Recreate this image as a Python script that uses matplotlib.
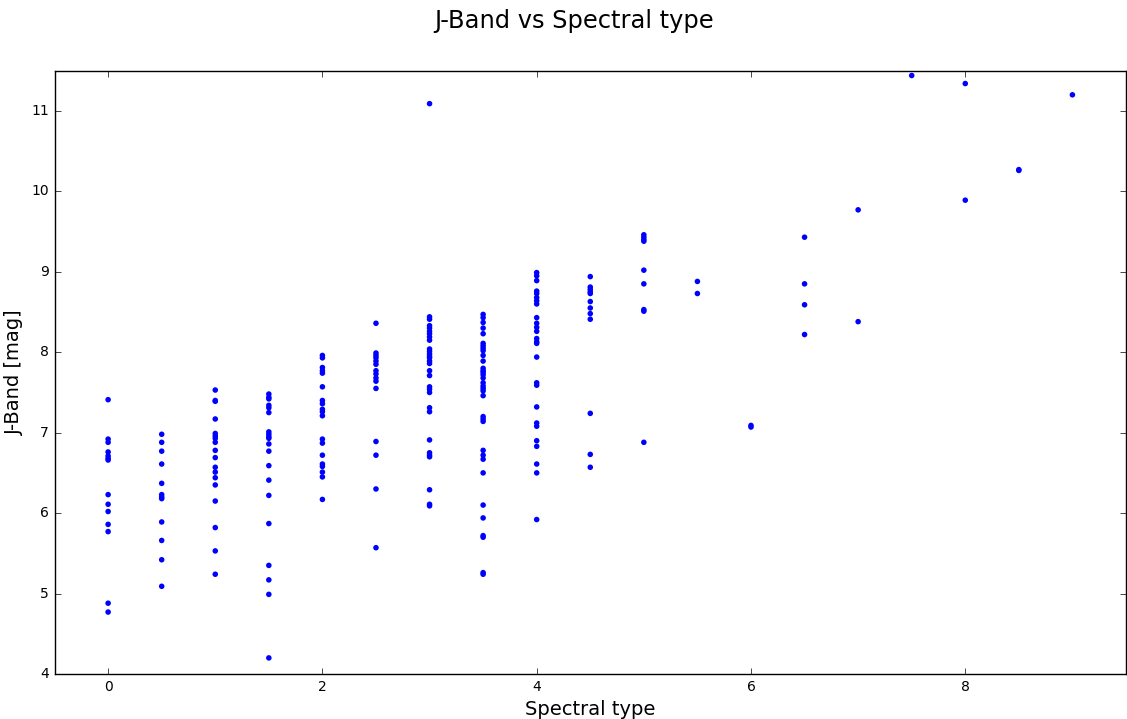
import matplotlib
matplotlib.use('Agg')
import matplotlib.pyplot as plt

# J-band magnitudes, grouped by spectral type
spt_00 = [7.41, 6.92, 6.88, 6.76, 6.71, 6.68, 6.66, 6.23, 6.11, 6.02, 5.86, 5.77, 4.88, 4.77]
spt_05 = [6.98, 6.88, 6.77, 6.61, 6.37, 6.23, 6.20, 6.18, 5.89, 5.66, 5.42, 5.09]
spt_10 = [7.53, 7.40, 7.39, 7.17, 6.99, 6.96, 6.93, 6.88, 6.78, 6.69, 6.57, 6.51,
          6.44, 6.35, 6.15, 5.82, 5.53, 5.24]
spt_15 = [7.48, 7.44, 7.42, 7.34, 7.31, 7.25, 7.01, 6.98, 6.95, 6.93, 6.86, 6.77,
          6.59, 6.41, 6.22, 5.87, 5.35, 5.17, 4.99, 4.20]
spt_20 = [7.96, 7.93, 7.81, 7.77, 7.74, 7.57, 7.40, 7.36, 7.29, 7.26, 7.21, 6.92,
          6.87, 6.72, 6.61, 6.58, 6.51, 6.45, 6.17]
spt_25 = [8.36, 7.99, 7.96, 7.93, 7.89, 7.85, 7.77, 7.73, 7.68, 7.64, 7.55, 6.89,
          6.72, 6.30, 5.57]
spt_30 = [11.09, 8.44, 8.41, 8.33, 8.30, 8.26, 8.23, 8.19, 8.15, 8.04, 8.01, 7.98,
          7.95, 7.93, 7.89, 7.86, 7.77, 7.71, 7.57, 7.54, 7.50, 7.31, 7.26, 6.91,
          6.75, 6.72, 6.70, 6.29, 6.11, 6.09]
spt_35 = [8.47, 8.43, 8.37, 8.30, 8.23, 8.11, 8.08, 8.05, 8.02, 7.96, 7.89, 7.80,
          7.77, 7.75, 7.72, 7.68, 7.62, 7.58, 7.55, 7.52, 7.46, 7.20, 7.17, 7.14,
          6.78, 6.72, 6.67, 6.50, 6.10, 5.94, 5.70, 5.72, 5.24, 5.26]
spt_40 = [8.99, 8.95, 8.89, 8.76, 8.73, 8.68, 8.64, 8.60, 8.43, 8.36, 8.31, 8.26,
          8.17, 8.13, 8.11, 7.94, 7.62, 7.59, 7.32, 7.12, 7.08, 6.90, 6.83, 6.61,
          6.50, 5.92]
spt_45 = [8.94, 8.81, 8.78, 8.75, 8.73, 8.63, 8.55, 8.48, 8.41, 7.24, 6.73, 6.57]
spt_50 = [9.46, 9.43, 9.40, 9.38, 9.02, 8.85, 8.53, 8.51, 6.88]
spt_55 = [8.88, 8.73]
spt_60 = [7.07, 7.09]
spt_65 = [9.43, 8.85, 8.59, 8.22]
spt_70 = [9.77, 8.38]
spt_75 = [11.44]
spt_80 = [11.34, 9.89]
spt_85 = [10.26, 10.27]
spt_90 = [11.20]

groups = {0.0: spt_00, 0.5: spt_05, 1.0: spt_10, 1.5: spt_15, 2.0: spt_20,
          2.5: spt_25, 3.0: spt_30, 3.5: spt_35, 4.0: spt_40, 4.5: spt_45,
          5.0: spt_50, 5.5: spt_55, 6.0: spt_60, 6.5: spt_65, 7.0: spt_70,
          7.5: spt_75, 8.0: spt_80, 8.5: spt_85, 9.0: spt_90}

spec_type = []
j_band = []
for spt, mags in groups.items():
    spec_type += [spt] * len(mags)
    j_band += mags

plt.style.use('classic')
plt.rcParams['font.family'] = 'DejaVu Sans'

fig = plt.figure(figsize=(11.27, 7.19), dpi=100, facecolor='white')
ax = fig.add_axes([0.0484, 0.0626, 0.9507, 0.8391])

ax.scatter(spec_type, j_band, s=16, c='b', edgecolors='none')

ax.set_xlim(-0.5, 9.5)
ax.set_ylim(4, 11.5)
ax.set_xticks([0, 2, 4, 6, 8])
ax.set_yticks(range(4, 12))
ax.tick_params(axis='both', labelsize=10, direction='in', top=True, right=True)
ax.set_xlabel('Spectral type', fontsize=14)
ax.set_ylabel('J-Band [mag]', fontsize=14)
fig.suptitle('J-Band vs Spectral type', fontsize=17.4, x=0.509, y=0.987)

plt.savefig('out.png', dpi=100, facecolor='white')
